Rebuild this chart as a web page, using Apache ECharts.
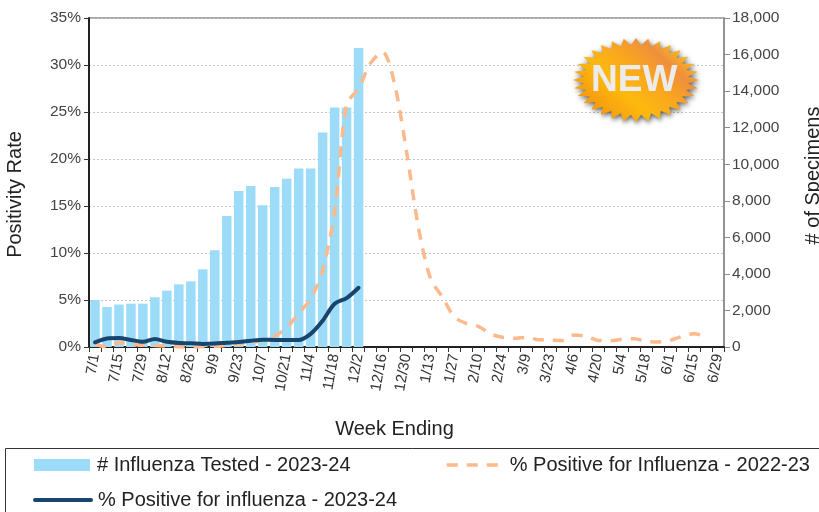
<!DOCTYPE html>
<html lang="en">
<head>
    <meta charset="UTF-8">
    <title>Influenza positivity</title>
    <script src="https://cdn.jsdelivr.net/npm/echarts@6/dist/echarts.min.js"></script>
    <style>
        html, body { margin: 0; padding: 0; background: #fff; overflow: hidden; }
        #main { width: 819px; height: 512px; }
    </style>
</head>
<body>
<div id="main"></div>
<script type="text/javascript">
    var weeks = ["7/1","7/8","7/15","7/22","7/29","8/5","8/12","8/19","8/26","9/2","9/9","9/16","9/23","9/30",
        "10/7","10/14","10/21","10/28","11/4","11/11","11/18","11/25","12/2","12/9","12/16","12/23","12/30",
        "1/6","1/13","1/20","1/27","2/3","2/10","2/17","2/24","3/2","3/9","3/16","3/23","3/30",
        "4/6","4/13","4/20","4/27","5/4","5/11","5/18","5/25","6/1","6/8","6/15","6/22","6/29"];

    // # tested, right axis
    var tested = [2570,2190,2320,2370,2370,2720,3085,3430,3590,4250,5290,7170,8530,8810,
        7750,8750,9210,9760,9760,11730,13100,13100,16360];

    // % positive this season
    var positive2324 = [0.5,0.9,0.95,0.75,0.55,0.85,0.55,0.43,0.4,0.32,0.36,0.46,0.53,0.67,
        0.78,0.75,0.75,0.75,1.4,2.8,4.6,5.2,6.3];

    // % positive last season
    var positive2223 = [0.3,0,0.45,0.3,0.2,0.15,0.1,0.02,0,0.02,0.05,0.18,0.35,0.45,
        0.7,1.15,2.05,3.6,5.1,8.2,14.4,25.8,27.5,30.2,31.4,28,20.8,12.7,
        7.3,5.3,3.2,2.5,2.2,1.4,1.03,0.92,1.03,0.78,0.75,0.7,
        1.28,1.13,0.7,0.67,0.82,0.89,0.6,0.53,0.7,1.13,1.42,1.06];

    var nameTested = "# Influenza Tested - 2023-24";
    var nameLast = "% Positive for Influenza - 2022-23";
    var nameThis = "% Positive for influenza - 2023-24";

    var font = '"Liberation Sans", Arial, sans-serif';

    // starburst outline for the NEW badge
    function burst(cx, cy, rx, ry, n) {
        var pts = [];
        for (var i = 0; i < n * 2; i++) {
            var a = Math.PI * i / n;
            var k = i % 2 === 0 ? 1 : 0.83;
            pts.push([cx + rx * k * Math.cos(a), cy + ry * k * Math.sin(a)]);
        }
        return pts;
    }

    function legendAt(left, top, item, isLine, lineWidth) {
        return {
            left: left, top: top, data: [isLine ? item : { name: item, icon: "rect" }],
            itemWidth: 56, itemHeight: 12, itemGap: 0,
            selectedMode: false, padding: 0,
            itemStyle: isLine ? { opacity: 0 } : {},
            lineStyle: isLine ? { width: lineWidth } : {},
            textStyle: { fontFamily: font, fontSize: 20, color: "#222", padding: [0, 0, 0, 2] }
        };
    }

    var option = {
        animation: false,
        backgroundColor: "#fff",
        grid: {
            left: 89, right: 95, top: 18, bottom: 165, outerBoundsMode: "none",
            show: true, borderColor: "#8c8c8c", borderWidth: 1.5, backgroundColor: "transparent"
        },
        legend: [
            legendAt(34, 455, nameTested, false),
            legendAt(445, 455, nameLast, true, 3.5),
            legendAt(33, 490, nameThis, true, 4)
        ],
        xAxis: {
            type: "category",
            data: weeks,
            name: "Week Ending",
            nameLocation: "middle",
            nameGap: 72,
            nameTextStyle: { fontFamily: font, fontSize: 20, color: "#222", padding: [0, 24, 0, 0] },
            axisLine: { lineStyle: { color: "#222", width: 2 } },
            axisTick: { show: true, interval: 0, length: 5, lineStyle: { color: "#333" } },
            axisLabel: { interval: 1, rotate: 80, margin: 7, padding: [6, 0, 0, 0], fontFamily: font, fontSize: 15, color: "#333" }
        },
        yAxis: [
            {
                type: "value", min: 0, max: 35, interval: 5,
                name: "Positivity Rate",
                nameLocation: "middle",
                nameGap: 64,
                nameTextStyle: { fontFamily: font, fontSize: 20, color: "#222", padding: [0, 24, 0, 0] },
                axisLine: { show: true, lineStyle: { color: "#222", width: 2 } },
                axisTick: { show: true, length: 5, lineStyle: { color: "#333" } },
                axisLabel: { formatter: "{value}%", margin: 8, fontFamily: font, fontSize: 15.5, color: "#444" },
                splitLine: { show: true, lineStyle: { color: "#c4c4c4", type: [2, 2], width: 1 } }
            },
            {
                type: "value", min: 0, max: 18000, interval: 2000,
                position: "right",
                name: "# of Specimens",
                nameLocation: "middle",
                nameGap: 79,
                nameTextStyle: { fontFamily: font, fontSize: 20, color: "#222", padding: [0, 0, 0, 14] },
                axisLine: { show: true, lineStyle: { color: "#8c8c8c", width: 1.5 } },
                axisTick: { show: true, length: 6, lineStyle: { color: "#8c8c8c" } },
                axisLabel: {
                    margin: 8, fontFamily: font, fontSize: 15.5, color: "#444",
                    formatter: function (v) { return v.toLocaleString("en-US"); }
                },
                splitLine: { show: false }
            }
        ],
        series: [
            {
                name: nameTested, type: "bar", yAxisIndex: 1, data: tested,
                barWidth: 9.5,
                itemStyle: { color: "#9cdcf8" }
            },
            {
                name: nameLast, type: "line", yAxisIndex: 0, data: positive2223,
                smooth: 0.3, symbol: "none",
                lineStyle: { color: "#fbb98c", width: 3.5, type: [11, 9] },
                itemStyle: { color: "#fbb98c" }
            },
            {
                name: nameThis, type: "line", yAxisIndex: 0, data: positive2324,
                smooth: 0.3, symbol: "none",
                lineStyle: { color: "#17456e", width: 4, cap: "round" },
                itemStyle: { color: "#17456e" }
            }
        ],
        graphic: [
            {
                type: "rect", z: -1, silent: true,
                shape: { x: 5.5, y: 448.5, width: 830, height: 80 },
                style: { fill: "#fff", stroke: "#333", lineWidth: 1 }
            },
            {
                type: "polygon", z: 10, silent: true,
                shape: { points: burst(636, 80, 63, 42, 32) },
                style: {
                    fill: new echarts.graphic.LinearGradient(0.2, 1, 0.8, 0, [
                        { offset: 0, color: "#f5920f" },
                        { offset: 0.35, color: "#fdb90e" },
                        { offset: 0.6, color: "#f9a51f" },
                        { offset: 0.8, color: "#ef8f3c" },
                        { offset: 1, color: "#fcc21c" }
                    ]),
                    shadowBlur: 5, shadowColor: "rgba(40,40,40,0.75)", shadowOffsetX: 1, shadowOffsetY: 2
                }
            },
            {
                type: "text", z: 11, silent: true, left: 591, top: 62,
                style: {
                    text: "NEW", fontFamily: font, fontWeight: "bold", fontSize: 37, fill: "#ececec",
                    shadowBlur: 1, shadowColor: "rgba(60,40,10,0.95)", shadowOffsetX: 2, shadowOffsetY: 2
                }
            }
        ]
    };

    var myChart = echarts.init(document.getElementById("main"));
    myChart.setOption(option);
</script>
</body>
</html>
